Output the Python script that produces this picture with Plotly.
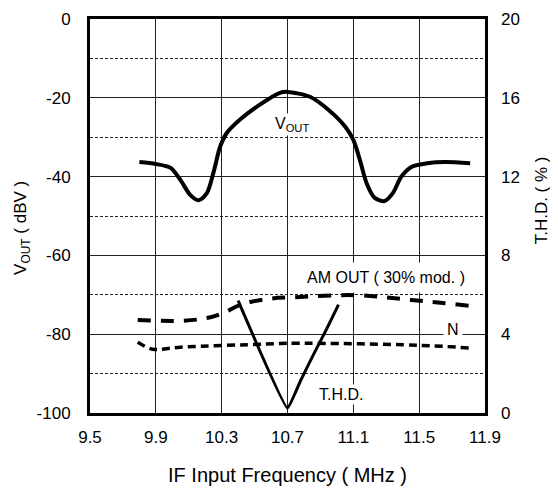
import plotly.graph_objects as go

# values
freq_vout = [9.80, 9.90, 9.99, 10.05, 10.11, 10.16, 10.21, 10.25, 10.29, 10.33,
             10.41, 10.53, 10.65, 10.70, 10.84, 10.95, 11.05, 11.10, 11.14, 11.18,
             11.23, 11.29, 11.34, 11.39, 11.45, 11.55, 11.66, 11.81]
vout = [-36.3, -36.8, -37.8, -40.9, -44.7, -46.0, -44.2, -39.0, -32.5, -29.0,
        -25.6, -21.8, -18.8, -18.5, -19.8, -23.1, -27.3, -30.7, -35.8, -41.6,
        -45.4, -46.2, -44.2, -40.1, -37.6, -36.6, -36.3, -36.6]

freq_am = [9.79, 10.05, 10.21, 10.31, 10.41, 10.57, 10.75, 11.11, 11.45, 11.81]
am_out = [-76.4, -76.6, -75.9, -74.6, -72.6, -71.1, -70.6, -70.1, -71.3, -72.8]

freq_n = [9.79, 9.88, 10.05, 10.57, 10.75, 11.49, 11.81]
noise = [-82.0, -83.8, -83.3, -82.5, -82.3, -82.8, -83.5]

freq_thd = [10.40, 10.70, 10.78, 10.86, 10.94, 11.01]
thd = [5.7, 0.25, 1.65, 3.0, 4.3, 5.5]

x_ticks = [9.5, 9.9, 10.3, 10.7, 11.1, 11.5, 11.9]
x_labels = ["9.5", "9.9", "10.3", "10.7", "11.1", "11.5", "11.9"]
y_ticks = [0, -20, -40, -60, -80, -100]
y_labels = ["0", "-20", "-40", "-60", "-80", "-100"]
y2_ticks = [0, 4, 8, 12, 16, 20]
y2_labels = ["0", "4", "8", "12", "16", "20"]

FONT = "Liberation Sans, Arial, sans-serif"

fig = go.Figure()
fig.add_trace(go.Scatter(x=freq_vout, y=vout, mode="lines",
                         line=dict(color="black", width=4, shape="spline", smoothing=0.8)))
fig.add_trace(go.Scatter(x=freq_am, y=am_out, mode="lines",
                         line=dict(color="black", width=4, dash="13px,10px", shape="spline")))
fig.add_trace(go.Scatter(x=freq_n, y=noise, mode="lines",
                         line=dict(color="black", width=3.5, dash="8px,5px", shape="spline")))
fig.add_trace(go.Scatter(x=freq_thd, y=thd, mode="lines", yaxis="y2",
                         line=dict(color="black", width=3, shape="spline", smoothing=0.3)))

ann = dict(showarrow=False, bgcolor="white", font=dict(size=16, color="black", family=FONT))
fig.add_annotation(x=10.73, y=-26.7, text="V<sub>OUT</sub>", **ann)
fig.add_annotation(x=11.30, y=-65.7, text="AM OUT ( 30% mod. )", borderpad=6, **ann)
fig.add_annotation(x=11.705, y=-78.7, text="N", borderpad=3, **ann)
fig.add_annotation(x=11.025, y=-95.4, text="T.H.D.", **ann)

# y axis titles as rotated annotations so they sit where the reference has them
title = dict(showarrow=False, xref="paper", yref="paper", textangle=-90,
             xanchor="center", yanchor="middle", font=dict(size=17, family=FONT, color="black"))
fig.add_annotation(x=-0.172, y=0.47, text="V<sub>OUT</sub> ( dBV )", **title)
fig.add_annotation(x=1.142, y=0.54, text="T.H.D. ( % )", **title)

# the page body adds an 8px margin, so the figure is 8px smaller than the window
fig.update_layout(
    width=550, height=485,
    margin=dict(l=82, r=73, t=11, b=80),
    paper_bgcolor="white", plot_bgcolor="white",
    showlegend=False,
    font=dict(family=FONT, size=17, color="black"),
    xaxis=dict(range=[9.5, 11.9], tickvals=x_ticks, ticktext=x_labels,
               showgrid=True, gridcolor="#222", gridwidth=1,
               showline=True, linecolor="black", linewidth=3, mirror=True,
               ticks="", zeroline=False, automargin=False, ticklabelstandoff=7,
               title=dict(text="IF Input Frequency ( MHz )", standoff=22)),
    yaxis=dict(range=[-100, 0], tickvals=y_ticks, ticktext=y_labels,
               showgrid=True, gridcolor="#222", gridwidth=1,
               minor=dict(dtick=10, tick0=0, showgrid=True, gridcolor="#222",
                          gridwidth=1, griddash="3px,2px"),
               showline=True, linecolor="black", linewidth=3, mirror=True,
               ticks="", zeroline=False, automargin=False, ticklabelstandoff=13),
    yaxis2=dict(range=[0, 20], tickvals=y2_ticks, ticktext=y2_labels,
                overlaying="y", side="right", showgrid=False, zeroline=False,
                ticks="", showline=False, automargin=False, ticklabelstandoff=15),
)

fig.write_html("out.html")
